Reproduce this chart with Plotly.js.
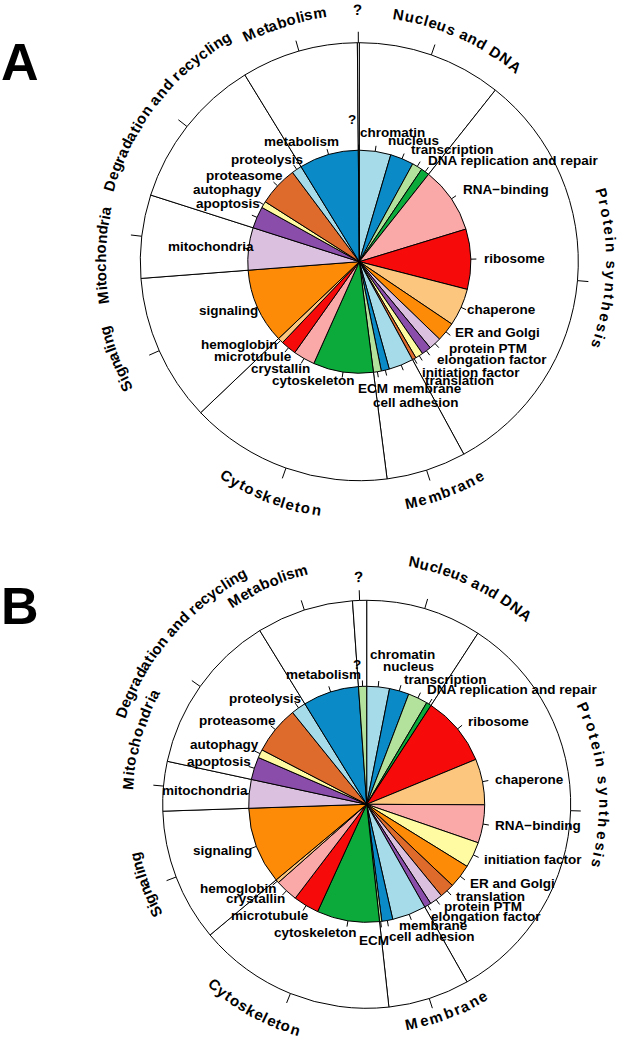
<!DOCTYPE html>
<html>
<head>
<meta charset="utf-8">
<script src="https://cdn.plot.ly/plotly-3.0.1.min.js"></script>
<style>html,body{margin:0;padding:0;background:#fff;}</style>
</head>
<body>
<div id="chart" style="width:625px;height:1050px;"></div>
<script>
// ---------------- DATA ----------------
// Group (outer ring) names, clockwise from 12 o'clock
const groups = ['Nucleus and DNA', 'Protein synthesis', 'Membrane', 'Cytoskeleton', 'Signaling',
  'Mitochondria', 'Degradation and recycling', 'Metabolism', '?'];

// Category -> group membership
const groupOf = {
  'chromatin': 'Nucleus and DNA', 'nucleus': 'Nucleus and DNA', 'transcription': 'Nucleus and DNA',
  'DNA replication and repair': 'Nucleus and DNA',
  'RNA\u2212binding': 'Protein synthesis', 'ribosome': 'Protein synthesis', 'chaperone': 'Protein synthesis',
  'ER and Golgi': 'Protein synthesis', 'protein PTM': 'Protein synthesis', 'elongation factor': 'Protein synthesis',
  'initiation factor': 'Protein synthesis', 'translation': 'Protein synthesis',
  'membrane': 'Membrane', 'cell adhesion': 'Membrane', 'ECM': 'Membrane',
  'cytoskeleton': 'Cytoskeleton', 'crystallin': 'Cytoskeleton', 'microtubule': 'Cytoskeleton', 'hemoglobin': 'Cytoskeleton',
  'signaling': 'Signaling', 'mitochondria': 'Mitochondria',
  'apoptosis': 'Degradation and recycling', 'autophagy': 'Degradation and recycling',
  'proteasome': 'Degradation and recycling', 'proteolysis': 'Degradation and recycling',
  'metabolism': 'Metabolism', '?': '?'
};

// Panel A: categories (clockwise) and share of proteins (%)
const labelsA = ['chromatin', 'nucleus', 'transcription', 'DNA replication and repair',
  'RNA\u2212binding', 'ribosome', 'chaperone', 'ER and Golgi', 'protein PTM', 'elongation factor',
  'initiation factor', 'translation', 'membrane', 'cell adhesion', 'ECM',
  'cytoskeleton', 'crystallin', 'microtubule', 'hemoglobin', 'signaling', 'mitochondria',
  'apoptosis', 'autophagy', 'proteasome', 'proteolysis', 'metabolism', '?'];
const valuesA = [4.56, 3.39, 1.50, 1.22,
  9.61, 8.72, 5.44, 2.78, 1.81, 1.39,
  1.11, 0.56, 3.58, 1.17, 1.14,
  8.72, 3.14, 2.25, 0.81, 10.89, 6.14,
  3.17, 0.94, 5.75, 1.47, 8.61, 0.14];

// Panel B: categories (clockwise) and share of proteins (%)
const labelsB = ['chromatin', 'nucleus', 'transcription', 'DNA replication and repair',
  'ribosome', 'chaperone', 'RNA\u2212binding', 'initiation factor', 'ER and Golgi', 'translation',
  'protein PTM', 'elongation factor', 'membrane', 'cell adhesion', 'ECM',
  'cytoskeleton', 'microtubule', 'crystallin', 'hemoglobin', 'signaling', 'mitochondria',
  'apoptosis', 'autophagy', 'proteasome', 'proteolysis', 'metabolism', '?'];
const valuesB = [3.11, 2.69, 2.69, 0.69,
  9.61, 6.28, 5.22, 3.53, 3.25, 2.03,
  1.78, 0.94, 4.64, 1.50, 0.31,
  8.56, 3.53, 3.11, 0.47, 10.53, 3.92,
  3.11, 1.14, 6.56, 2.03, 7.67, 1.11];

// ---------------- STYLE ----------------
const PAL = {lb:'#a6dbea', b:'#0a8ac6', lg:'#b2e29c', g:'#0caa3a', pk:'#fba8a8', r:'#f70a0a',
  lo:'#fdc67e', o:'#fd8b07', li:'#dcc0e0', pu:'#8a4eaa', y:'#fffba2', br:'#de6a2c'};
const catColor = {
  'chromatin':PAL.lb, 'nucleus':PAL.b, 'transcription':PAL.lg, 'DNA replication and repair':PAL.g,
  'RNA\u2212binding':PAL.pk, 'ribosome':PAL.r, 'chaperone':PAL.lo, 'ER and Golgi':PAL.o,
  'protein PTM':PAL.li, 'elongation factor':PAL.pu, 'initiation factor':PAL.y, 'translation':PAL.br,
  'membrane':PAL.lb, 'cell adhesion':PAL.b, 'ECM':PAL.lg, 'cytoskeleton':PAL.g,
  'crystallin':PAL.pk, 'microtubule':PAL.r, 'hemoglobin':PAL.lo, 'signaling':PAL.o,
  'mitochondria':PAL.li, 'apoptosis':PAL.pu, 'autophagy':PAL.y, 'proteasome':PAL.br,
  'proteolysis':PAL.lb, 'metabolism':PAL.b, '?':PAL.lg
};

const W = 625, H = 1050;
const FONT = '"Liberation Sans", Arial, Helvetica, sans-serif';
const LEFT_SHIFT = 12;

// label nudges (px) reproducing the hand placement of crowded labels
const nudgeA = {
  '?':[-14,-20], 'metabolism':[3,-2], 'proteolysis':[2,-1], 'proteasome':[3,-3], 'autophagy':[-3,-9],
  'apoptosis':[2,-9], 'mitochondria':[6,-1], 'signaling':[0,-1], 'hemoglobin':[-6,-4],
  'crystallin':[1,0], 'cytoskeleton':[3,-3],
  'chromatin':[-18,-8], 'nucleus':[-19,-8], 'transcription':[-13,-7], 'DNA replication and repair':[-5,-2],
  'RNA\u2212binding':[1,-3], 'ribosome':[1,0], 'chaperone':[-5,-2], 'ER and Golgi':[-1,-6],
  'protein PTM':[5,-3], 'elongation factor':[3,0], 'initiation factor':[-4,7], 'translation':[4,12],
  'membrane':[-13,13], 'cell adhesion':[-16,22], 'ECM':[-22,6]
};
const nudgeB = {
  '?':[-12,-10], 'metabolism':[23,-6], 'proteolysis':[-2,0], 'proteasome':[-1,-2], 'autophagy':[-1,-4],
  'apoptosis':[-3,-3], 'mitochondria':[0,-2], 'signaling':[-4,0], 'hemoglobin':[-2,0],
  'crystallin':[-4,-1], 'microtubule':[-2,0], 'cytoskeleton':[0,0],
  'chromatin':[-10,-21], 'nucleus':[-21,-13], 'transcription':[-20,-8], 'DNA replication and repair':[-9,-4],
  'RNA\u2212binding':[-1,-1], 'initiation factor':[-1,0], 'ER and Golgi':[-1,0], 'translation':[0,-3],
  'protein PTM':[0,-3], 'elongation factor':[-4,1], 'membrane':[-15,0], 'cell adhesion':[-1,4], 'ECM':[-24,7]
};
// curved group-title placement: [centre angle (deg, clockwise from 12), radius (px), letter spacing]
const groupTextA = {
  'Nucleus and DNA':[23.8, 250, 1.12], 'Protein synthesis':[91.5, 252, 1.33], 'Membrane':[159.7, 246, 1.12],
  'Cytoskeleton':[201, 252, 1.15], 'Signaling':[248.3, 264, 1.02], 'Mitochondria':[271.5, 259, 1.04],
  'Degradation and recycling':[308, 261, 1.08], 'Metabolism':[342.6, 252, 1.06], '?':[359.5, 252, 1]
};
const groupTextB = {
  'Nucleus and DNA':[25.5, 247, 1.08], 'Protein synthesis':[85, 238, 1.38], 'Membrane':[159, 224, 1.18],
  'Cytoskeleton':[209, 236, 1.1], 'Signaling':[250, 237, 1.02], 'Mitochondria':[286, 240, 1.12],
  'Degradation and recycling':[311, 262, 1.05], 'Metabolism':[335.7, 243, 1.05], '?':[358, 228, 1]
};

const panels = [
  {letter:'A', letterPos:[20, 62], labels:labelsA, values:valuesA, cx:359.3, cy:261.7, rIn:111.5, rOut:219,
   nudge:nudgeA, gtext:groupTextA},
  {letter:'B', letterPos:[20, 606], labels:labelsB, values:valuesB, cx:366.7, cy:804.3, rIn:118, rOut:204,
   nudge:nudgeB, gtext:groupTextB}
];

// ---------------- BUILD ----------------
function polar(cx, cy, r, deg) {
  const t = deg * Math.PI / 180;
  return [cx + r * Math.sin(t), cy - r * Math.cos(t)];
}
const px = (x) => x / W;
const py = (y) => 1 - y / H;

const measureCtx = document.createElement('canvas').getContext('2d');
measureCtx.font = 'bold 15px "Liberation Sans", Arial, sans-serif';

const traces = [], annotations = [], shapes = [];

function tick(p0, p1) {
  shapes.push({type:'line', xref:'paper', yref:'paper', x0:px(p0[0]), y0:py(p0[1]), x1:px(p1[0]), y1:py(p1[1]),
    line:{color:'#000', width:1}});
}

panels.forEach(p => {
  const total = p.values.reduce((a, b) => a + b, 0);
  const groupVals = groups.map(g => p.labels.reduce((s, l, i) => s + (groupOf[l] === g ? p.values[i] : 0), 0));
  const dom = (r) => ({x:[(p.cx - r) / W, (p.cx + r) / W], y:[1 - (p.cy + r) / H, 1 - (p.cy - r) / H]});

  traces.push({type:'pie', labels:groups, values:groupVals, sort:false, direction:'clockwise', rotation:0,
    textinfo:'none', hoverinfo:'none', showlegend:false,
    marker:{colors:groups.map(() => '#ffffff'), line:{color:'#000', width:1}}, domain:dom(p.rOut)});
  traces.push({type:'pie', labels:p.labels, values:p.values, sort:false, direction:'clockwise', rotation:0,
    textinfo:'none', hoverinfo:'none', showlegend:false,
    marker:{colors:p.labels.map(l => catColor[l]), line:{color:'#000', width:1}}, domain:dom(p.rIn)});

  // inner labels with leader ticks
  let acc = 0;
  p.labels.forEach((l, i) => {
    const mid = (acc + p.values[i] / 2) / total * 360;
    acc += p.values[i];
    tick(polar(p.cx, p.cy, p.rIn, mid), polar(p.cx, p.cy, p.rIn * 1.05, mid));
    const c = polar(p.cx, p.cy, p.rIn * 1.1, mid);
    const left = c[0] < p.cx;
    const nd = p.nudge[l] || [0, 0];
    const x = c[0] + (left ? LEFT_SHIFT : 0) + nd[0];
    const y = c[1] + nd[1];
    annotations.push({xref:'paper', yref:'paper', x:px(x), y:py(y), text:l, showarrow:false,
      xanchor:left ? 'right' : 'left', yanchor:'middle', borderpad:0,
      font:{family:FONT, size:13.5, color:'#000', weight:'bold'}});
  });

  // outer groups: tick at the group's middle + curved title
  let gacc = 0;
  groups.forEach((g, gi) => {
    const a0 = gacc / total * 360;
    gacc += groupVals[gi];
    const a1 = gacc / total * 360;
    const mid = (a0 + a1) / 2;
    tick(polar(p.cx, p.cy, p.rOut, mid), polar(p.cx, p.cy, p.rOut * 1.05, mid));
    const spec = p.gtext[g];
    const centre = spec[0], Rt = spec[1], spacing = spec[2];
    const flip = centre > 140 && centre < 232;
    const chars = g.split('');
    const widths = chars.map(ch => measureCtx.measureText(ch).width * spacing);
    const totalDeg = widths.reduce((a, b) => a + b, 0) / Rt * 180 / Math.PI;
    let cum = 0;
    chars.forEach((ch, k) => {
      const off = (cum + widths[k] / 2) / Rt * 180 / Math.PI;
      cum += widths[k];
      if (ch === ' ') return;
      const ang = flip ? (centre + totalDeg / 2 - off) : (centre - totalDeg / 2 + off);
      const pos = polar(p.cx, p.cy, Rt, ang);
      annotations.push({xref:'paper', yref:'paper', x:px(pos[0]), y:py(pos[1]), text:ch, showarrow:false,
        xanchor:'center', yanchor:'middle', borderpad:0, textangle:flip ? ang - 180 : ang,
        font:{family:FONT, size:15, color:'#000', weight:'bold'}});
    });
  });

  // panel letter
  annotations.push({xref:'paper', yref:'paper', x:px(p.letterPos[0]), y:py(p.letterPos[1]), text:p.letter,
    showarrow:false, xanchor:'center', yanchor:'middle', font:{family:FONT, size:52, color:'#000', weight:'bold'}});
});

const layout = {
  width:W, height:H, margin:{l:0, r:0, t:0, b:0}, paper_bgcolor:'#fff', plot_bgcolor:'#fff',
  showlegend:false, annotations:annotations, shapes:shapes
};
Plotly.newPlot('chart', traces, layout, {staticPlot:true, displayModeBar:false});
</script>
</body>
</html>
